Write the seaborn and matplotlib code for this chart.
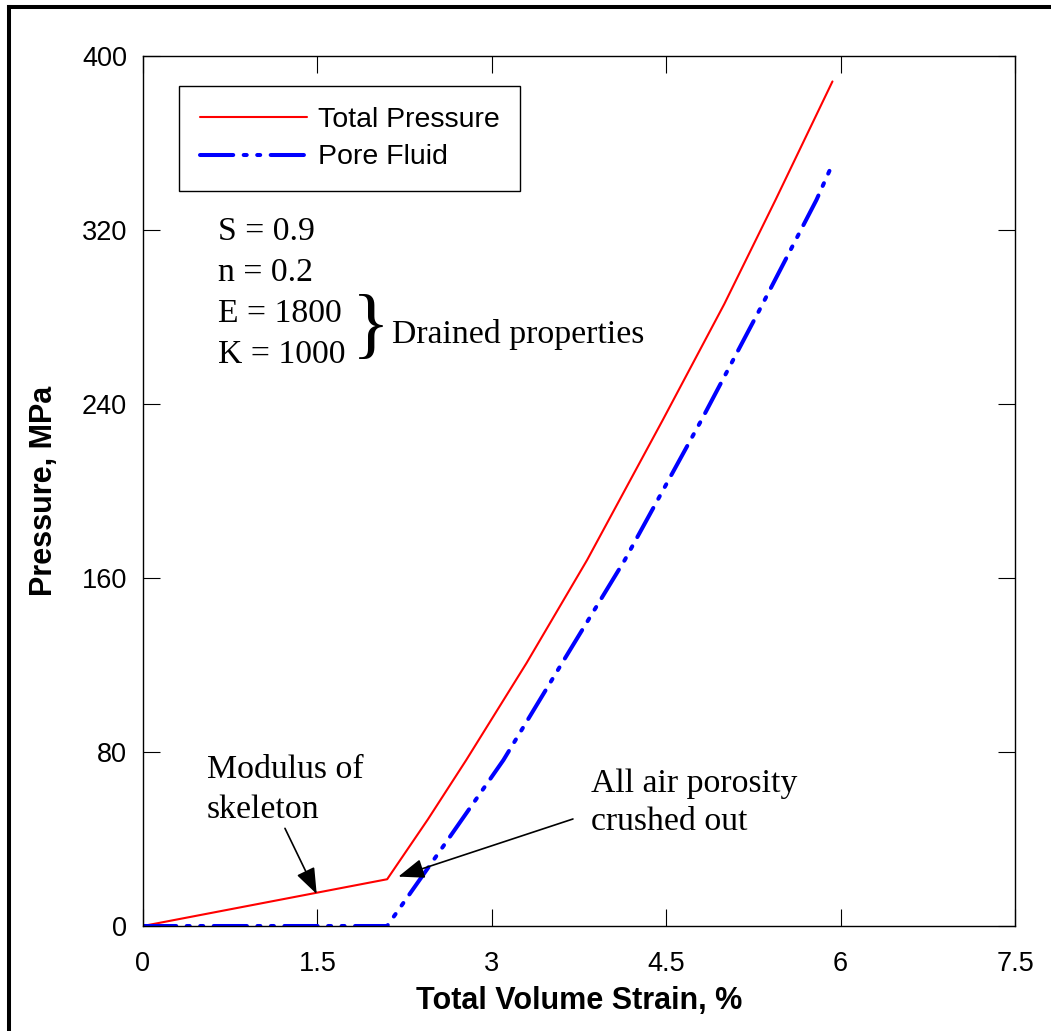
import numpy as np
import pandas as pd
import matplotlib
matplotlib.use("Agg")
import matplotlib.pyplot as plt
from matplotlib.lines import Line2D
import seaborn as sns

# ---------------- data ----------------
strain_total = [0.0, 2.10, 2.45, 2.78, 3.30, 3.82, 4.47, 5.00, 5.44, 5.93]
pressure_total = [0.0, 21.5, 49.0, 76.3, 121.0, 168.3, 232.6, 286.0, 333.8, 388.3]

strain_pore = [0.0, 2.10, 2.60, 3.10, 3.60, 4.144, 4.803, 5.30, 5.792, 5.93]
pressure_pore = [0.0, 0.0, 38.0, 76.3, 120.5, 168.3, 232.6, 283.0, 333.8, 350.3]

series_names = ["Total Pressure", "Pore Fluid"]
x_ticks = [0, 1.5, 3, 4.5, 6, 7.5]
x_ticklabels = ["0", "1.5", "3", "4.5", "6", "7.5"]
y_ticks = [0, 80, 160, 240, 320, 400]
y_ticklabels = ["0", "80", "160", "240", "320", "400"]
param_lines = ["S = 0.9", "n = 0.2", "E = 1800", "K = 1000"]

# ---------------- style ----------------
sns.set_style("ticks")
plt.rcParams["font.family"] = ["Liberation Sans", "DejaVu Sans"]
plt.rcParams["axes.linewidth"] = 1.0
for key in ["text.color", "axes.labelcolor", "xtick.color", "ytick.color",
            "axes.edgecolor"]:
    plt.rcParams[key] = "black"

fig = plt.figure(figsize=(10.51, 10.31), dpi=100)
ax = fig.add_axes([143 / 1051, 1 - 926 / 1031, (1015 - 143) / 1051, (926 - 56) / 1031])

df_total = pd.DataFrame({"strain": strain_total, "pressure": pressure_total})
df_pore = pd.DataFrame({"strain": strain_pore, "pressure": pressure_pore})

sns.lineplot(data=df_total, x="strain", y="pressure", ax=ax, color="#ff0000",
             linewidth=1.5, estimator=None, sort=False, label=series_names[0])
sns.lineplot(data=df_pore, x="strain", y="pressure", ax=ax, color="#0000ff",
             linewidth=2.9, estimator=None, sort=False, label=series_names[1],
             linestyle=(0, (8.25, 2.6, 0.75, 2.6, 0.75, 2.6)),
             dash_capstyle="round")

ax.set_xlim(0, 7.5)
ax.set_ylim(0, 400)
ax.set_xticks(x_ticks)
ax.set_xticklabels(x_ticklabels)
ax.set_yticks(y_ticks)
ax.set_yticklabels(y_ticklabels)
for s in ax.spines.values():
    s.set_visible(True)
    s.set_color("black")
    s.set_linewidth(1.0)
ax.tick_params(axis="both", which="major", direction="in", length=12, width=0.8,
               top=True, right=True, labelsize=19.5, colors="black")
ax.tick_params(axis="y", pad=11.5)
ax.tick_params(axis="x", pad=18)

ax.set_xlabel("Total Volume Strain, %", fontsize=22, fontweight="bold", color="black")
ax.set_ylabel("Pressure, MPa", fontsize=22, fontweight="bold", color="black")
ax.xaxis.set_label_coords(0.5, -0.069)
ax.yaxis.set_label_coords(-0.096, 0.5)

leg = ax.legend(loc="upper left", bbox_to_anchor=(0.0416, 0.9655), borderaxespad=0,
                fontsize=20.5, frameon=True, fancybox=False, framealpha=1,
                edgecolor="black", handlelength=3.75, handletextpad=0.4,
                borderpad=0.72, labelspacing=0.42)
leg.get_frame().set_linewidth(1.0)
for t in leg.get_texts():
    t.set_color("black")

serif = ["Liberation Serif", "DejaVu Serif"]
tsize = 24.3
param_y = [315.4, 296.6, 277.7, 258.9]
for txt, yy in zip(param_lines, param_y):
    ax.text(0.645, yy, txt, fontsize=tsize, family=serif, ha="left", va="baseline",
            color="black")
ax.text(1.96, 274.0, "}", fontsize=57, family=serif, ha="center", va="center",
        color="black")
ax.text(2.142, 268.0, "Drained properties", fontsize=tsize, family=serif,
        ha="left", va="baseline", color="black")

ax.text(0.548, 68.0, "Modulus of", fontsize=tsize, family=serif, ha="left",
        va="baseline", color="black")
ax.text(0.548, 49.7, "skeleton", fontsize=tsize, family=serif, ha="left",
        va="baseline", color="black")
ax.text(3.853, 61.7, "All air porosity", fontsize=tsize, family=serif, ha="left",
        va="baseline", color="black")
ax.text(3.853, 44.1, "crushed out", fontsize=tsize, family=serif, ha="left",
        va="baseline", color="black")

arrowprops = dict(arrowstyle="-|>,head_length=0.8,head_width=0.3", color="black",
                  lw=1.2, shrinkA=0, shrinkB=0, mutation_scale=20)
ax.annotate("", xy=(1.494, 14.7), xytext=(1.221, 44.9), arrowprops=arrowprops)
ax.annotate("", xy=(2.196, 22.7), xytext=(3.698, 49.2), arrowprops=arrowprops)

# outer frame (left and top edges visible in reference)
fig.add_artist(Line2D([9 / 1051, 9 / 1051], [0, 1 - 6.5 / 1031], transform=fig.transFigure,
                      color="black", lw=2.9, solid_capstyle="projecting"))
fig.add_artist(Line2D([9 / 1051, 1], [1 - 6.5 / 1031, 1 - 6.5 / 1031], transform=fig.transFigure,
                      color="black", lw=2.9, solid_capstyle="projecting"))

fig.savefig("out.png", dpi=100)
